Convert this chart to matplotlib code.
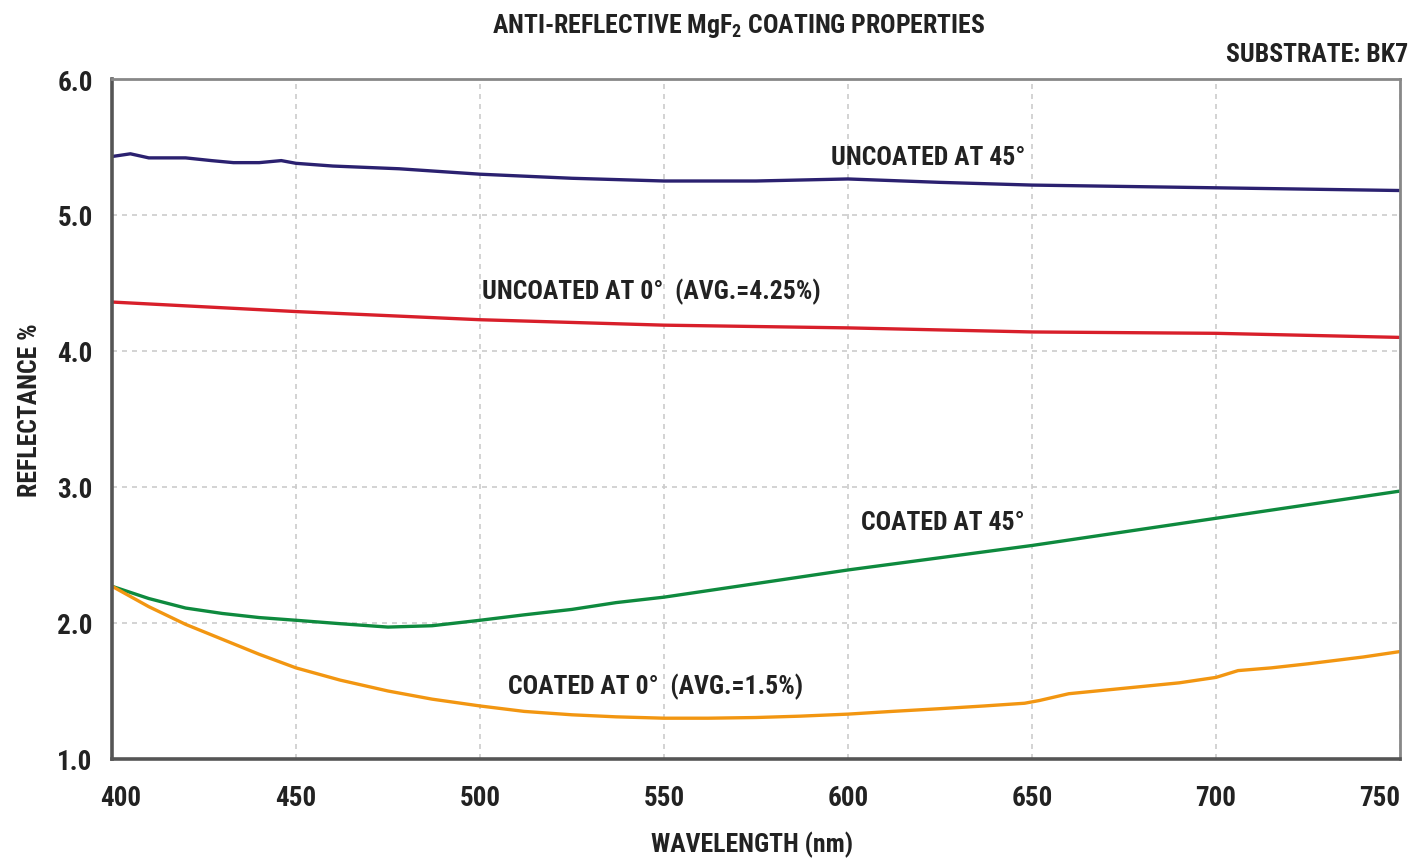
import matplotlib
matplotlib.use("Agg")
import matplotlib.pyplot as plt
from matplotlib import font_manager
from matplotlib.transforms import ScaledTranslation

# ---------------- data ----------------
unc45_wl = [400, 405, 410, 420, 427, 433, 440, 446, 450, 460, 478, 500, 525, 550, 575, 600, 625, 650, 675, 700, 725, 750]
unc45_r  = [5.43, 5.45, 5.42, 5.42, 5.40, 5.385, 5.385, 5.40, 5.38, 5.36, 5.34, 5.30, 5.27, 5.25, 5.25, 5.265, 5.24, 5.22, 5.21, 5.20, 5.19, 5.18]

unc0_wl = [400, 450, 500, 550, 600, 650, 700, 750]
unc0_r  = [4.36, 4.29, 4.23, 4.19, 4.17, 4.14, 4.13, 4.10]

c45_wl = [400, 410, 420, 430, 440, 450, 462, 475, 487, 500, 512, 525, 537, 550, 575, 600, 625, 650, 675, 700, 725, 750]
c45_r  = [2.27, 2.18, 2.11, 2.07, 2.04, 2.02, 1.995, 1.97, 1.98, 2.02, 2.06, 2.10, 2.15, 2.19, 2.29, 2.39, 2.48, 2.57, 2.67, 2.77, 2.87, 2.97]

c0_wl = [400, 410, 420, 430, 440, 450, 462, 475, 487, 500, 512, 525, 537, 550, 562, 575, 587, 600, 612, 625, 637, 648, 652, 660, 675, 690, 700, 706, 715, 725, 740, 750]
c0_r  = [2.27, 2.12, 1.99, 1.88, 1.77, 1.67, 1.58, 1.50, 1.44, 1.39, 1.35, 1.325, 1.31, 1.30, 1.30, 1.305, 1.315, 1.33, 1.35, 1.37, 1.39, 1.41, 1.43, 1.48, 1.52, 1.56, 1.60, 1.65, 1.67, 1.70, 1.75, 1.79]

x_ticks = [400, 450, 500, 550, 600, 650, 700, 750]
y_ticks = [1.0, 2.0, 3.0, 4.0, 5.0, 6.0]

title = "ANTI-REFLECTIVE MgF$\\mathregular{_2}$ COATING PROPERTIES"
subtitle = "SUBSTRATE: BK7"
x_label = "WAVELENGTH (nm)"
y_label = "REFLECTANCE %"
lab_unc45 = "UNCOATED AT 45°"
lab_unc0 = "UNCOATED AT 0°  (AVG.=4.25%)"
lab_c45 = "COATED AT 45°"
lab_c0 = "COATED AT 0°  (AVG.=1.5%)"

# ---------------- fonts ----------------
names = {f.name for f in font_manager.fontManager.ttflist}
fam = "DejaVu Sans"
for cand in ["Roboto Condensed", "Open Sans Condensed", "Liberation Sans Narrow", "Noto Sans Condensed"]:
    if cand in names:
        fam = cand
        break
plt.rcParams["font.family"] = [fam, "DejaVu Sans"]
plt.rcParams["mathtext.fontset"] = "custom"
plt.rcParams["mathtext.rm"] = fam
plt.rcParams["mathtext.bf"] = fam + ":bold"

TXT = "#222222"
FS = 18.5
FW = "bold"

fig = plt.figure(figsize=(14.16, 8.62), dpi=100)
ax = fig.add_axes([112/1416, 102/862, 1288/1416, 680/862])

ax.plot(unc45_wl, unc45_r, color="#2b2170", lw=2.4, solid_capstyle="butt", solid_joinstyle="round")
ax.plot(unc0_wl, unc0_r, color="#d81f2a", lw=2.4, solid_capstyle="butt", solid_joinstyle="round")
ax.plot(c45_wl, c45_r, color="#0e8a3e", lw=2.4, solid_capstyle="butt", solid_joinstyle="round")
ax.plot(c0_wl, c0_r, color="#f29611", lw=2.4, solid_capstyle="butt", solid_joinstyle="round")

ax.set_xlim(400, 750)
ax.set_ylim(1.0, 6.0)
ax.set_xticks(x_ticks)
ax.set_yticks(y_ticks)
ax.set_xticklabels([str(v) for v in x_ticks])
ax.set_yticklabels([f"{v:.1f}" for v in y_ticks])
ax.tick_params(length=0, labelsize=FS + 1, colors=TXT)
ax.tick_params(axis="x", pad=18)
ax.tick_params(axis="y", pad=14)
for t in ax.get_xticklabels() + ax.get_yticklabels():
    t.set_fontweight(FW)

xl = ax.get_xticklabels()
xl[0].set_transform(xl[0].get_transform() + ScaledTranslation(9/100, 0, fig.dpi_scale_trans))
xl[-1].set_ha("right")

ax.grid(True, color="#cccccc", lw=1.2, linestyle=(0, (3, 3)))
ax.set_axisbelow(True)

for s in ["left", "bottom"]:
    ax.spines[s].set_color("#555555")
    ax.spines[s].set_linewidth(2.6)
for s in ["top", "right"]:
    ax.spines[s].set_color("#888888")
    ax.spines[s].set_linewidth(2.0)

fig.text(739/1416, 1 - 26/862, title, ha="center", va="center", fontsize=FS, color=TXT, fontweight=FW)
fig.text(1408/1416, 1 - 55/862, subtitle, ha="right", va="center", fontsize=FS, color=TXT, fontweight=FW)
fig.text(752/1416, 1 - 845/862, x_label, ha="center", va="center", fontsize=FS, color=TXT, fontweight=FW)
fig.text(30/1416, 1 - 410/862, y_label, ha="center", va="center", rotation=90, fontsize=FS, color=TXT, fontweight=FW)

ax.text(621.7, 5.43, lab_unc45, ha="center", va="center", fontsize=FS, color=TXT, fontweight=FW)
ax.text(546.5, 4.44, lab_unc0, ha="center", va="center", fontsize=FS, color=TXT, fontweight=FW)
ax.text(625.8, 2.74, lab_c45, ha="center", va="center", fontsize=FS, color=TXT, fontweight=FW)
ax.text(547.8, 1.54, lab_c0, ha="center", va="center", fontsize=FS, color=TXT, fontweight=FW)

fig.savefig("out.png", dpi=100, facecolor="white")
